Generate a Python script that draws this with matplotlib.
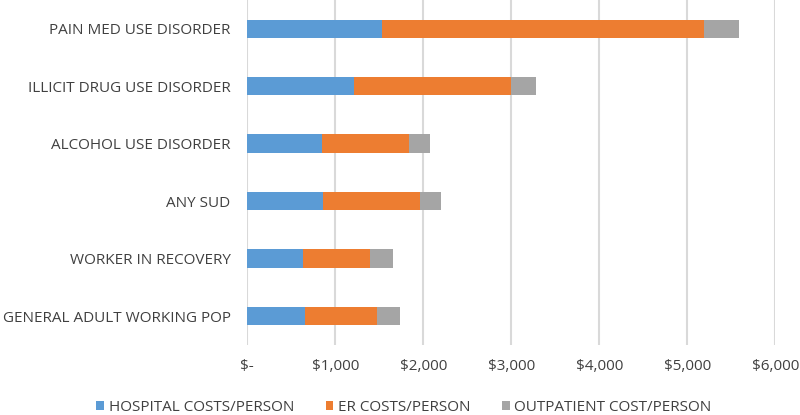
import numpy as np
import matplotlib.pyplot as plt
from matplotlib.ticker import FuncFormatter

plt.rcParams['font.family'] = ['Open Sans', 'DejaVu Sans']

groups = ["PAIN MED USE DISORDER", "ILLICIT DRUG USE DISORDER", "ALCOHOL USE DISORDER",
          "ANY SUD", "WORKER IN RECOVERY", "GENERAL ADULT WORKING POP"]
hospital = [1530, 1217, 852, 867, 631, 662]
er = [3658, 1783, 981, 1091, 761, 813]
outpatient = [396, 281, 247, 240, 266, 266]

hospital = np.array(hospital)
er = np.array(er)
outpatient = np.array(outpatient)
y = np.arange(len(groups))

fig = plt.figure(figsize=(8, 4.15), dpi=100)
ax = fig.add_axes([0.309, 0.169, 0.66, 0.831])

h = 0.32
ax.barh(y, hospital, h, color="#5B9BD5", label="HOSPITAL COSTS/PERSON", zorder=3)
ax.barh(y, er, h, left=hospital, color="#ED7D31", label="ER COSTS/PERSON", zorder=3)
ax.barh(y, outpatient, h, left=hospital + er, color="#A5A5A5", label="OUTPATIENT COST/PERSON", zorder=3)

ax.set_ylim(len(groups) - 0.5, -0.5)
ax.set_xlim(0, 6000)
ax.set_yticks(y)
ax.set_yticklabels(groups, fontsize=11, color="#404040")
ax.set_xticks(np.arange(0, 6001, 1000))
ax.xaxis.set_major_formatter(FuncFormatter(lambda v, p: "$-" if v == 0 else "${:,.0f}".format(v)))
ax.tick_params(axis='x', labelsize=11, labelcolor="#404040", length=0, pad=10)
ax.tick_params(axis='y', length=0, pad=12)
ax.grid(axis='x', color="#D9D9D9", linewidth=1.5, zorder=0)
for s in ax.spines.values():
    s.set_visible(False)

fig.legend(loc='center', bbox_to_anchor=(0.505, 0.019), ncol=3, frameon=False,
           fontsize=11, handlelength=0.52, handleheight=0.52, handletextpad=0.3,
           columnspacing=2.05, labelcolor="#404040")

fig.savefig("out.png", dpi=100)
